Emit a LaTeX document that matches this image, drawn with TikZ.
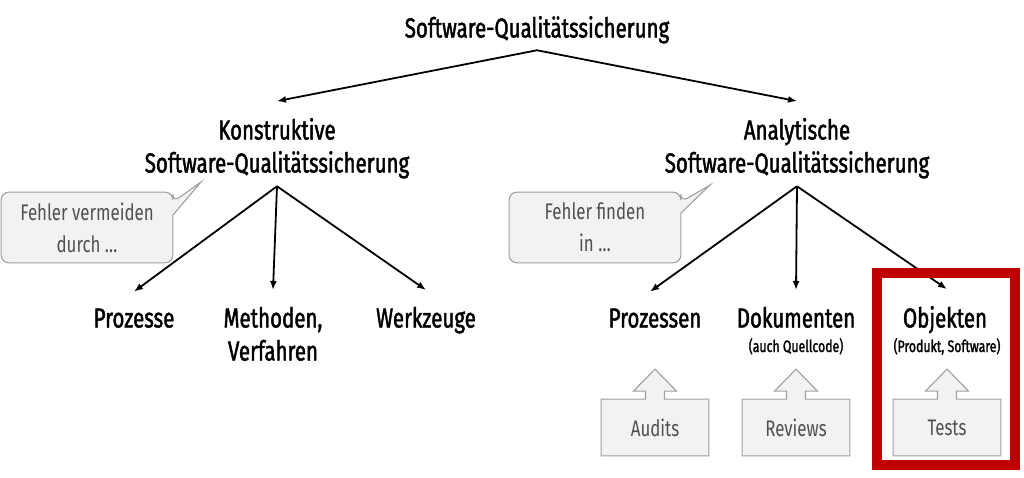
\documentclass[tikz,border=0pt]{standalone}
\usepackage{fontspec}
\setmainfont{Fira Sans}[FakeStretch=0.75]
\newfontfamily\labelfont{Fira Sans}[FakeStretch=0.745,FakeBold=1.6]
\usetikzlibrary{arrows.meta,backgrounds}

\definecolor{hlred}{HTML}{C00000}
\definecolor{boxgray}{HTML}{F2F2F2}
\definecolor{linegray}{HTML}{A0A0A0}
\definecolor{textgray}{HTML}{505050}

\tikzset{
	lbl/.style={font=\labelfont\fontsize{27.5}{33}\selectfont, align=center, inner sep=0pt, anchor=base},
	sub/.style={font=\labelfont\fontsize{16.5}{18}\selectfont, inner sep=0pt, anchor=base},
	note/.style={font=\fontsize{22.5}{32}\selectfont, text=textgray, align=center, inner sep=0pt,
		minimum width=170pt, minimum height=69pt},
	gbox/.style={font=\fontsize{22.5}{26}\selectfont, text=textgray, inner sep=0pt,
		minimum width=106pt, minimum height=55pt},
	cbox/.style={draw=linegray, fill=boxgray, line width=1.1pt},
	hilite/.style={draw=hlred, line width=9.5pt, minimum width=138pt, minimum height=192pt}
}

\begin{document}
\begin{tikzpicture}[x=1pt, y=-1pt, >={Latex[length=9pt,width=7pt]}, line width=1.8pt]
	\useasboundingbox (0,0) rectangle (1024,477);

	% Define nodes
	\node (sqs) [lbl] at (537,37.5) {Software-Qualitätssicherung};
	\node (kon) [lbl] at (277,172.5) {Konstruktive\\Software-Qualitätssicherung};
	\node (ana) [lbl] at (797,172.5) {Analytische\\Software-Qualitätssicherung};

	\node (proz) [lbl] at (134,327.5) {Prozesse};
	\node (meth) [lbl] at (273,360.5) {Methoden,\\Verfahren};
	\node (werk) [lbl] at (426,327.5) {Werkzeuge};

	\node (prozn) [lbl] at (655,327.5) {Prozessen};
	\node (doku) [lbl] at (796,327.5) {Dokumenten};
	\node (quell) [sub] at (796,352) {(auch Quellcode)};
	\node (obj) [lbl] at (945,327.5) {Objekten};
	\node (prod) [sub] at (947,352) {(Produkt, Software)};

	% Callouts
	\node (vermeid) [note] at (87,227.5) {Fehler vermeiden\\durch \dots};
	\coordinate (vermeidtip) at (201,182);
	\node (finden) [note] at (595,227.5) {Fehler finden\\in \dots};
	\coordinate (findentip) at (710,185);

	% Gray boxes
	\node (aud) [gbox] at (655,427.5) {Audits};
	\node (rev) [gbox] at (796,427.5) {Reviews};
	\node (tst) [gbox] at (947,427.5) {Tests};

	\begin{scope}[on background layer]
	\draw[cbox, rounded corners=8pt] (vermeid.north west) -- (vermeid.north east) -- ([yshift=-10pt]vermeid.north east)
		[sharp corners] -- (vermeidtip) -- ([yshift=-23pt]vermeid.north east)
		[rounded corners=8pt] -- (vermeid.south east) -- (vermeid.south west) -- cycle;
	\draw[cbox, rounded corners=8pt] (finden.north west) -- (finden.north east) -- ([yshift=-10pt]finden.north east)
		[sharp corners] -- (findentip) -- ([yshift=-21pt]finden.north east)
		[rounded corners=8pt] -- (finden.south east) -- (finden.south west) -- cycle;

	\draw[cbox] (aud.south west) -- (aud.north west) -- ([xshift=-9.5pt]aud.north) -- ([xshift=-9.5pt,yshift=8pt]aud.north)
		-- ([xshift=-21.5pt,yshift=8pt]aud.north) -- ([yshift=30pt]aud.north) -- ([xshift=21.5pt,yshift=8pt]aud.north)
		-- ([xshift=9.5pt,yshift=8pt]aud.north) -- ([xshift=9.5pt]aud.north) -- (aud.north east) -- (aud.south east) -- cycle;
	\draw[cbox] (rev.south west) -- (rev.north west) -- ([xshift=-9.5pt]rev.north) -- ([xshift=-9.5pt,yshift=8pt]rev.north)
		-- ([xshift=-21.5pt,yshift=8pt]rev.north) -- ([yshift=30pt]rev.north) -- ([xshift=21.5pt,yshift=8pt]rev.north)
		-- ([xshift=9.5pt,yshift=8pt]rev.north) -- ([xshift=9.5pt]rev.north) -- (rev.north east) -- (rev.south east) -- cycle;
	\draw[cbox] (tst.south west) -- (tst.north west) -- ([xshift=-9.5pt]tst.north) -- ([xshift=-9.5pt,yshift=8pt]tst.north)
		-- ([xshift=-21.5pt,yshift=8pt]tst.north) -- ([yshift=30pt]tst.north) -- ([xshift=21.5pt,yshift=8pt]tst.north)
		-- ([xshift=9.5pt,yshift=8pt]tst.north) -- ([xshift=9.5pt]tst.north) -- (tst.north east) -- (tst.south east) -- cycle;
	\end{scope}

	% Draw edges
	\path[->]
	([yshift=-6pt]sqs.south) edge ([yshift=16pt]kon.north)
	([yshift=-6pt]sqs.south) edge ([yshift=16pt]ana.north)

	([yshift=-7pt]kon.south) edge ([yshift=16pt]proz.north)
	([yshift=-7pt]kon.south) edge ([yshift=16pt]meth.north)
	([yshift=-7pt]kon.south) edge ([yshift=16pt]werk.north)

	([yshift=-7pt]ana.south) edge ([xshift=-5pt,yshift=16pt]prozn.north)
	([yshift=-7pt]ana.south) edge ([yshift=16pt]doku.north)
	([yshift=-7pt]ana.south) edge ([xshift=2pt,yshift=16pt]obj.north);

	% Highlight
	\node (hl) [hilite] at (946,369) {};
\end{tikzpicture}
\end{document}
